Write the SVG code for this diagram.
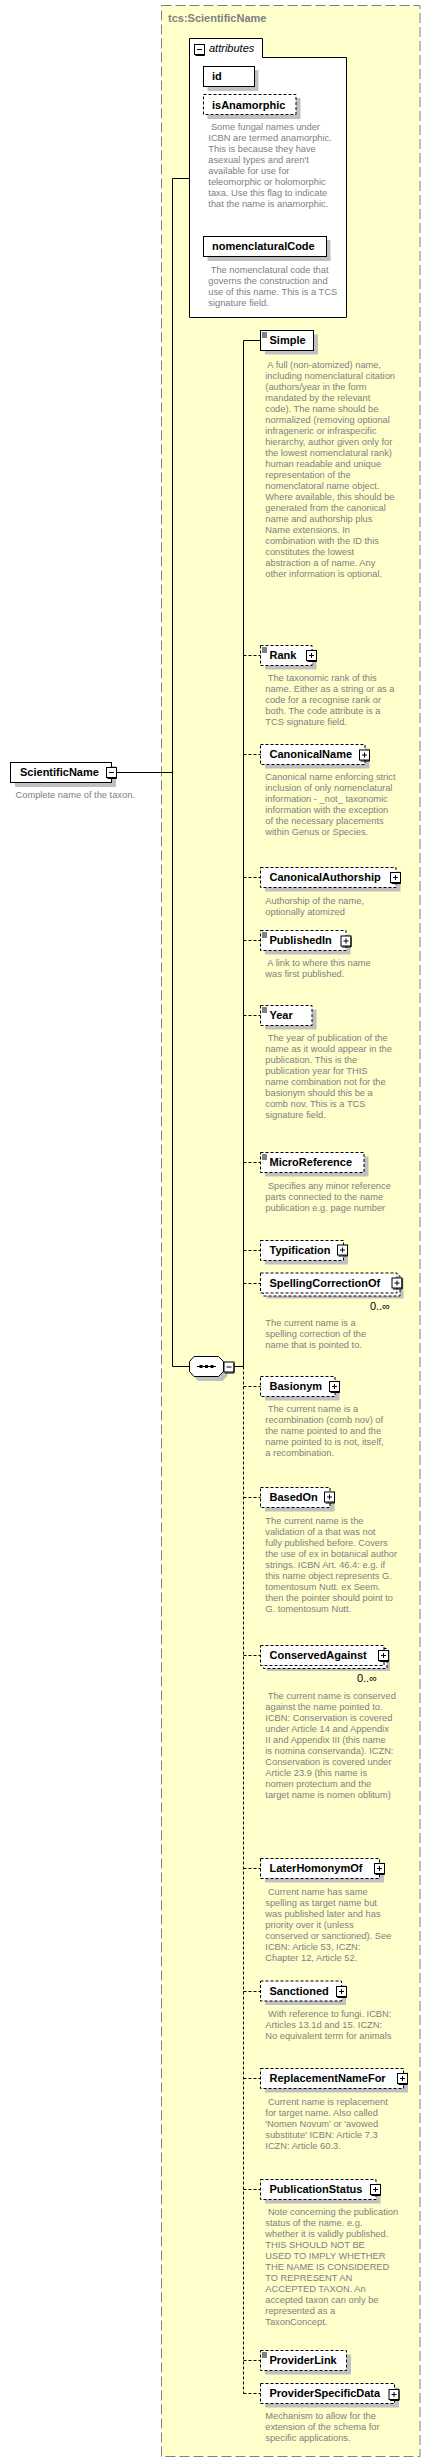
<svg xmlns="http://www.w3.org/2000/svg" xmlns:xlink="http://www.w3.org/1999/xlink" width="431" height="2463" viewBox="0 0 431 2463">
<style>
.n{fill:#fff;stroke:#000;stroke-width:1}
.o{stroke-dasharray:3,2}
.sh{fill:#c0c0c0}
.lbl{font-family:"Liberation Sans",Arial,sans-serif;font-weight:bold;font-size:11px;fill:#000}
.d{font-family:"Liberation Sans",Arial,sans-serif;font-size:9.3px;fill:#808080;white-space:pre}
.c{fill:none;stroke:#000;stroke-width:1}
.cd{fill:none;stroke:#000;stroke-width:1;stroke-dasharray:3,2}
.ic{stroke:#000;stroke-width:1}
</style>
<defs>
<g id="plus"><rect x="0.5" y="0.5" width="10" height="10" fill="#fff" stroke="#000"/><path d="M10.5,1.5V11.5H1.5" fill="none" stroke="#000"/><path d="M3,5.5H8M5.5,3V8" stroke="#000"/></g>
<g id="minus"><rect x="0.5" y="0.5" width="10" height="10" fill="#fff" stroke="#000"/><path d="M10.5,1.5V11.5H1.5" fill="none" stroke="#000"/><path d="M3,5.5H8" stroke="#000"/></g>
<path id="eq" d="M262,2.5h5M262,4.5h5M262,6.5h5" stroke="#000" stroke-width="1"/>
</defs>

<rect x="161.5" y="5.5" width="258.5" height="2451" fill="#ffffcc" stroke="#808080" stroke-dasharray="10,4"/>
<text x="168" y="22" class="lbl" fill="#808080" style="fill:#808080">tcs:ScientificName</text>

<g id="connectors">
<path class="c" d="M117,772.5H172.5"/>
<path class="c" d="M189,178.5H172.5V1366.5H189.5"/>
<path class="c" d="M234,1366.5H243.5V340.5H261"/>
<path class="cd" d="M243.5,1366.5V2393.5"/>
<path class="cd" d="M243.5,655.5H261M243.5,754.5H261M243.5,877.5H261M243.5,940.5H261M243.5,1015.5H261M243.5,1162.5H261M243.5,1250.5H261M243.5,1283.5H261M243.5,1386.5H261M243.5,1497.5H261M243.5,1655.5H261M243.5,1868.5H261M243.5,1991.5H261M243.5,2078.5H261M243.5,2189.5H261M243.5,2360.5H261M243.5,2393.5H261"/>
</g>

<g id="ScientificName">
<rect class="sh" x="15" y="766" width="101" height="21"/>
<rect class="n" x="10.5" y="762.5" width="101" height="20"/>
<text x="20" y="776" class="lbl">ScientificName</text>
<use xlink:href="#minus" x="106" y="767"/>
<text x="15.5" y="797.5" class="d">Complete name of the taxon.</text>
</g>

<g id="attributes">
<path class="n" d="M189.5,57.5V38.5H262.5V57.5H346.5V317.5H189.5Z"/>
<use xlink:href="#minus" x="194" y="44"/>
<text x="209" y="52" font-family="Liberation Sans, Arial, sans-serif" font-size="11" font-style="italic">attributes</text>
</g>

<g id="attr-id">
<rect class="sh" x="207.5" y="70" width="51" height="21"/>
<rect class="n" x="203.5" y="66.5" width="51" height="20"/>
<text x="212" y="80" class="lbl">id</text>
</g>

<g id="attr-isAnamorphic">
<rect class="sh" x="207.5" y="98" width="93" height="21"/>
<rect class="n o" x="203.5" y="94.5" width="92.5" height="20"/>
<text x="212" y="108.5" class="lbl">isAnamorphic</text>
<text class="d" y="130"><tspan x="208.3"> Some fungal names under</tspan><tspan x="208.3" dy="11">ICBN are termed anamorphic.</tspan><tspan x="208.3" dy="11">This is because they have</tspan><tspan x="208.3" dy="11">asexual types and aren't</tspan><tspan x="208.3" dy="11">available for use for</tspan><tspan x="208.3" dy="11">teleomorphic or holomorphic</tspan><tspan x="208.3" dy="11">taxa. Use this flag to indicate</tspan><tspan x="208.3" dy="11">that the name is anamorphic.</tspan></text>
</g>

<g id="attr-nomenclaturalCode">
<rect class="sh" x="207.5" y="240" width="123" height="21"/>
<rect class="n" x="203.5" y="236.5" width="123" height="20"/>
<text x="212" y="250" class="lbl">nomenclaturalCode</text>
<text class="d" y="272.8"><tspan x="208.3"> The nomenclatural code that</tspan><tspan x="208.3" dy="11">governs the construction and</tspan><tspan x="208.3" dy="11">use of this name. This is a TCS</tspan><tspan x="208.3" dy="11">signature field.</tspan></text>
</g>

<g id="sequence">
<path class="sh" d="M198,1360H222.5L227.5,1365V1376L222.5,1381H198L193.5,1376V1365Z"/>
<path class="n" d="M194,1356.5H218.5L223.5,1361.5V1371.5L218.5,1376.5H194L189.5,1371.5V1361.5Z"/>
<path d="M197,1366.5H216" stroke="#000"/>
<rect x="199.5" y="1365" width="3" height="3" fill="#000"/>
<rect x="205" y="1365" width="3" height="3" fill="#000"/>
<rect x="210.5" y="1365" width="3" height="3" fill="#000"/>
<use xlink:href="#minus" x="223.5" y="1361.5"/>
</g>

<g id="Simple">
<rect class="sh" x="265" y="334.5" width="53" height="20"/>
<rect class="n" x="260.5" y="330.5" width="53" height="20"/>
<use xlink:href="#eq" y="330.5"/>
<text x="269.5" y="344" class="lbl">Simple</text>
<text class="d" y="367.5"><tspan x="265.3"> A full (non-atomized) name,</tspan><tspan x="265.3" dy="11">including nomenclatural citation</tspan><tspan x="265.3" dy="11">(authors/year in the form</tspan><tspan x="265.3" dy="11">mandated by the relevant</tspan><tspan x="265.3" dy="11">code). The name should be</tspan><tspan x="265.3" dy="11">normalized (removing optional</tspan><tspan x="265.3" dy="11">infrageneric or infraspecific</tspan><tspan x="265.3" dy="11">hierarchy, author given only for</tspan><tspan x="265.3" dy="11">the lowest nomenclatural rank)</tspan><tspan x="265.3" dy="11">human readable and unique</tspan><tspan x="265.3" dy="11">representation of the</tspan><tspan x="265.3" dy="11">nomenclatoral name object.</tspan><tspan x="265.3" dy="11">Where available, this should be</tspan><tspan x="265.3" dy="11">generated from the canonical</tspan><tspan x="265.3" dy="11">name and authorship plus</tspan><tspan x="265.3" dy="11">Name extensions. In</tspan><tspan x="265.3" dy="11">combination with the ID this</tspan><tspan x="265.3" dy="11">constitutes the lowest</tspan><tspan x="265.3" dy="11">abstraction a of name. Any</tspan><tspan x="265.3" dy="11">other information is optional.</tspan></text>
</g>

<g id="Rank">
<rect class="sh" x="265" y="649.5" width="51.5" height="20"/>
<rect class="n o" x="260.5" y="645.5" width="51.5" height="20"/>
<use xlink:href="#eq" y="645.5"/>
<text x="269.5" y="659" class="lbl">Rank</text>
<use xlink:href="#plus" x="306" y="650"/>
<text class="d" y="681.2"><tspan x="265.3"> The taxonomic rank of this</tspan><tspan x="265.3" dy="11">name. Either as a string or as a</tspan><tspan x="265.3" dy="11">code for a recognise rank or</tspan><tspan x="265.3" dy="11">both. The code attribute is a</tspan><tspan x="265.3" dy="11">TCS signature field.</tspan></text>
</g>

<g id="CanonicalName">
<rect class="sh" x="265" y="748.5" width="104.5" height="20"/>
<rect class="n o" x="260.5" y="744.5" width="104.5" height="20"/>
<text x="269.5" y="758" class="lbl">CanonicalName</text>
<use xlink:href="#plus" x="359" y="749.5"/>
<text class="d" y="780.2"><tspan x="265.3">Canonical name enforcing strict</tspan><tspan x="265.3" dy="11">inclusion of only nomenclatural</tspan><tspan x="265.3" dy="11">information - _not_ taxonomic</tspan><tspan x="265.3" dy="11">information with the exception</tspan><tspan x="265.3" dy="11">of the necessary placements</tspan><tspan x="265.3" dy="11">within Genus or Species.</tspan></text>
</g>

<g id="CanonicalAuthorship">
<rect class="sh" x="265" y="871.5" width="135.5" height="20"/>
<rect class="n o" x="260.5" y="867.5" width="135.5" height="20"/>
<text x="269.5" y="881" class="lbl">CanonicalAuthorship</text>
<use xlink:href="#plus" x="390" y="872"/>
<text class="d" y="903.5"><tspan x="265.3">Authorship of the name,</tspan><tspan x="265.3" dy="11">optionally atomized</tspan></text>
</g>

<g id="PublishedIn">
<rect class="sh" x="265" y="934.5" width="85.5" height="20"/>
<rect class="n o" x="260.5" y="930.5" width="85.5" height="20"/>
<use xlink:href="#eq" y="930.5"/>
<text x="269.5" y="944" class="lbl">PublishedIn</text>
<use xlink:href="#plus" x="340.5" y="935.5"/>
<text class="d" y="966.2"><tspan x="265.3"> A link to where this name</tspan><tspan x="265.3" dy="11">was first published.</tspan></text>
</g>

<g id="Year">
<rect class="sh" x="265" y="1009.5" width="51.5" height="20"/>
<rect class="n o" x="260.5" y="1005.5" width="51.5" height="20"/>
<use xlink:href="#eq" y="1005.5"/>
<text x="269.5" y="1019" class="lbl">Year</text>
<text class="d" y="1041.2"><tspan x="265.3"> The year of publication of the</tspan><tspan x="265.3" dy="11">name as it would appear in the</tspan><tspan x="265.3" dy="11">publication. This is the</tspan><tspan x="265.3" dy="11">publication year for THIS</tspan><tspan x="265.3" dy="11">name combination not for the</tspan><tspan x="265.3" dy="11">basionym should this be a</tspan><tspan x="265.3" dy="11">comb nov. This is a TCS</tspan><tspan x="265.3" dy="11">signature field.</tspan></text>
</g>

<g id="MicroReference">
<rect class="sh" x="265" y="1156.5" width="103.5" height="20"/>
<rect class="n o" x="260.5" y="1152.5" width="103.5" height="20"/>
<use xlink:href="#eq" y="1152.5"/>
<text x="269.5" y="1166" class="lbl">MicroReference</text>
<text class="d" y="1188.5"><tspan x="265.3"> Specifies any minor reference</tspan><tspan x="265.3" dy="11">parts connected to the name</tspan><tspan x="265.3" dy="11">publication e.g. page number</tspan></text>
</g>

<g id="Typification">
<rect class="sh" x="265" y="1244.5" width="83" height="20"/>
<rect class="n o" x="260.5" y="1240.5" width="83" height="20"/>
<text x="269.5" y="1254" class="lbl">Typification</text>
<use xlink:href="#plus" x="337" y="1244.5"/>
</g>

<g id="SpellingCorrectionOf">
<rect class="sh" x="266.5" y="1278" width="137" height="20.5"/>
<rect class="n o" x="263.5" y="1276" width="136.5" height="20"/>
<rect class="n o" x="260.5" y="1273" width="136.5" height="20"/>
<text x="269.5" y="1286.5" class="lbl">SpellingCorrectionOf</text>
<use xlink:href="#plus" x="391.5" y="1277.5"/>
<text x="390" y="1309.5" text-anchor="end" font-family="Liberation Sans, Arial, sans-serif" font-size="11">0..∞</text>
<text class="d" y="1325.5"><tspan x="265.3">The current name is a</tspan><tspan x="265.3" dy="11">spelling correction of the</tspan><tspan x="265.3" dy="11">name that is pointed to.</tspan></text>
</g>

<g id="Basionym">
<rect class="sh" x="265" y="1380.5" width="74.5" height="20"/>
<rect class="n o" x="260.5" y="1376.5" width="74.5" height="20"/>
<text x="269.5" y="1390" class="lbl">Basionym</text>
<use xlink:href="#plus" x="329" y="1381"/>
<text class="d" y="1412.2"><tspan x="265.3"> The current name is a</tspan><tspan x="265.3" dy="11">recombination (comb nov) of</tspan><tspan x="265.3" dy="11">the name pointed to and the</tspan><tspan x="265.3" dy="11">name pointed to is not, itself,</tspan><tspan x="265.3" dy="11">a recombination.</tspan></text>
</g>

<g id="BasedOn">
<rect class="sh" x="265" y="1491.5" width="69.5" height="20"/>
<rect class="n o" x="260.5" y="1487.5" width="69.5" height="20"/>
<text x="269.5" y="1501" class="lbl">BasedOn</text>
<use xlink:href="#plus" x="324" y="1491.5"/>
<text class="d" y="1523.5"><tspan x="265.3">The current name is the</tspan><tspan x="265.3" dy="11">validation of a that was not</tspan><tspan x="265.3" dy="11">fully published before. Covers</tspan><tspan x="265.3" dy="11">the use of ex in botanical author</tspan><tspan x="265.3" dy="11">strings. ICBN Art. 46.4: e.g. if</tspan><tspan x="265.3" dy="11">this name object represents G.</tspan><tspan x="265.3" dy="11">tomentosum Nutt. ex Seem.</tspan><tspan x="265.3" dy="11">then the pointer should point to</tspan><tspan x="265.3" dy="11">G. tomentosum Nutt.</tspan></text>
</g>

<g id="ConservedAgainst">
<rect class="sh" x="266.5" y="1650.5" width="123.5" height="20.5"/>
<rect class="n o" x="263.5" y="1648.5" width="123.5" height="20"/>
<rect class="n o" x="260.5" y="1645.5" width="123.5" height="20"/>
<text x="269.5" y="1659" class="lbl">ConservedAgainst</text>
<use xlink:href="#plus" x="378" y="1650"/>
<text x="377" y="1682" text-anchor="end" font-family="Liberation Sans, Arial, sans-serif" font-size="11">0..∞</text>
<text class="d" y="1699.2"><tspan x="265.3"> The current name is conserved</tspan><tspan x="265.3" dy="11">against the name pointed to.</tspan><tspan x="265.3" dy="11">ICBN: Conservation is covered</tspan><tspan x="265.3" dy="11">under Article 14 and Appendix</tspan><tspan x="265.3" dy="11">II and Appendix III (this name</tspan><tspan x="265.3" dy="11">is nomina conservanda). ICZN:</tspan><tspan x="265.3" dy="11">Conservation is covered under</tspan><tspan x="265.3" dy="11">Article 23.9 (this name is</tspan><tspan x="265.3" dy="11">nomen protectum and the</tspan><tspan x="265.3" dy="11">target name is nomen oblitum)</tspan></text>
</g>

<g id="LaterHomonymOf">
<rect class="sh" x="265" y="1862.5" width="119" height="20"/>
<rect class="n o" x="260.5" y="1858.5" width="119" height="20"/>
<text x="269.5" y="1872" class="lbl">LaterHomonymOf</text>
<use xlink:href="#plus" x="374" y="1863"/>
<text class="d" y="1894.5"><tspan x="265.3"> Current name has same</tspan><tspan x="265.3" dy="11">spelling as target name but</tspan><tspan x="265.3" dy="11">was published later and has</tspan><tspan x="265.3" dy="11">priority over it (unless</tspan><tspan x="265.3" dy="11">conserved or sanctioned). See</tspan><tspan x="265.3" dy="11">ICBN: Article 53, ICZN:</tspan><tspan x="265.3" dy="11">Chapter 12, Article 52.</tspan></text>
</g>

<g id="Sanctioned">
<rect class="sh" x="265" y="1985" width="81" height="20"/>
<rect class="n o" x="260.5" y="1981" width="81" height="20"/>
<text x="269.5" y="1994.5" class="lbl">Sanctioned</text>
<use xlink:href="#plus" x="336" y="1986"/>
<text class="d" y="2017.2"><tspan x="265.3"> With reference to fungi. ICBN:</tspan><tspan x="265.3" dy="11">Articles 13.1d and 15. ICZN:</tspan><tspan x="265.3" dy="11">No equivalent term for animals</tspan></text>
</g>

<g id="ReplacementNameFor">
<rect class="sh" x="265" y="2072.5" width="143" height="20"/>
<rect class="n o" x="260.5" y="2068.5" width="143" height="20"/>
<text x="269.5" y="2082" class="lbl">ReplacementNameFor</text>
<use xlink:href="#plus" x="397" y="2073"/>
<text class="d" y="2104.5"><tspan x="265.3"> Current name is replacement</tspan><tspan x="265.3" dy="11">for target name. Also called</tspan><tspan x="265.3" dy="11">'Nomen Novum' or 'avowed</tspan><tspan x="265.3" dy="11">substitute' ICBN: Article 7.3</tspan><tspan x="265.3" dy="11">ICZN: Article 60.3.</tspan></text>
</g>

<g id="PublicationStatus">
<rect class="sh" x="265" y="2183.5" width="115.5" height="20"/>
<rect class="n o" x="260.5" y="2179.5" width="115.5" height="20"/>
<text x="269.5" y="2193" class="lbl">PublicationStatus</text>
<use xlink:href="#plus" x="370" y="2184"/>
<text class="d" y="2215.2"><tspan x="265.3"> Note concerning the publication</tspan><tspan x="265.3" dy="11">status of the name. e.g.</tspan><tspan x="265.3" dy="11">whether it is validly published.</tspan><tspan x="265.3" dy="11">THIS SHOULD NOT BE</tspan><tspan x="265.3" dy="11">USED TO IMPLY WHETHER</tspan><tspan x="265.3" dy="11">THE NAME IS CONSIDERED</tspan><tspan x="265.3" dy="11">TO REPRESENT AN</tspan><tspan x="265.3" dy="11">ACCEPTED TAXON. An</tspan><tspan x="265.3" dy="11">accepted taxon can only be</tspan><tspan x="265.3" dy="11">represented as a</tspan><tspan x="265.3" dy="11">TaxonConcept.</tspan></text>
</g>

<g id="ProviderLink">
<rect class="sh" x="265" y="2354.5" width="86" height="20"/>
<rect class="n o" x="260.5" y="2350.5" width="86" height="20"/>
<use xlink:href="#eq" y="2350.5"/>
<text x="269.5" y="2364" class="lbl">ProviderLink</text>
</g>

<g id="ProviderSpecificData">
<rect class="sh" x="265" y="2387.5" width="134" height="20"/>
<rect class="n o" x="260.5" y="2383.5" width="134" height="20"/>
<text x="269.5" y="2397" class="lbl">ProviderSpecificData</text>
<use xlink:href="#plus" x="388.5" y="2389"/>
<text class="d" y="2419.2"><tspan x="265.3">Mechanism to allow for the</tspan><tspan x="265.3" dy="11">extension of the schema for</tspan><tspan x="265.3" dy="11">specific applications.</tspan></text>
</g>
</svg>
